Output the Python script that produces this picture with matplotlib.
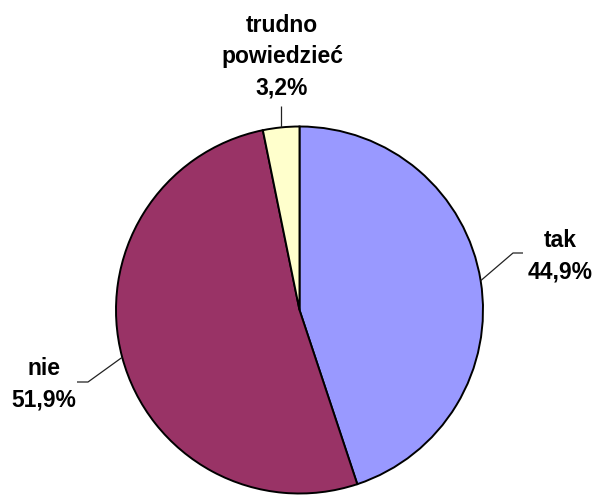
import numpy as np
import matplotlib
matplotlib.use("Agg")
import matplotlib.pyplot as plt

categories = ["tak", "nie", "trudno\npowiedzieć"]
shares = [44.9, 51.9, 3.2]
colors = ["#9999FF", "#993366", "#FFFFCC"]

W, H = 597, 495
fig = plt.figure(figsize=(W / 100, H / 100), dpi=100)
ax = fig.add_axes([0, 0, 1, 1])

cx, cy, r = 299.5, H - 310, 183.5
wedges, _ = ax.pie(shares, colors=colors, startangle=90, counterclock=False,
                   center=(cx, cy), radius=r,
                   wedgeprops=dict(edgecolor="black", linewidth=1.4))
ax.set_xlim(0, W)
ax.set_ylim(0, H)
ax.set_aspect("equal")
ax.axis("off")

font = dict(family="Liberation Sans", weight="bold", fontsize=16.5, color="black")
line_gap = 31.5

# label layout: elbow point, end of leader, centre of first text line (pixels)
layout = [
    dict(elbow=(513, 253), end=(523, 253), text=(560, 238)),
    dict(elbow=(88, 382), end=(77, 382), text=(44, 366)),
    dict(elbow=None, end=(281, 106), text=(282, 23)),
]

for w, v, name, lay in zip(wedges, shares, categories, layout):
    mid = np.deg2rad((w.theta1 + w.theta2) / 2)
    ax0 = cx + r * np.cos(mid)
    ay0 = cy + r * np.sin(mid)
    xs = [ax0]
    ys = [ay0]
    if lay["elbow"] is not None:
        xs.append(lay["elbow"][0]); ys.append(H - lay["elbow"][1])
    ex, ey = lay["end"]
    if lay["elbow"] is None:
        ex = ax0
    xs.append(ex); ys.append(H - ey)
    ax.plot(xs, ys, color="#222222", lw=0.9, solid_capstyle="butt")
    lines = name.split("\n") + [f"{v:.1f}%".replace(".", ",")]
    tx, ty = lay["text"]
    for i, s in enumerate(lines):
        ax.text(tx, H - (ty + i * line_gap), s, ha="center", va="center_baseline",
                **font)

fig.savefig("out.png", dpi=100)
